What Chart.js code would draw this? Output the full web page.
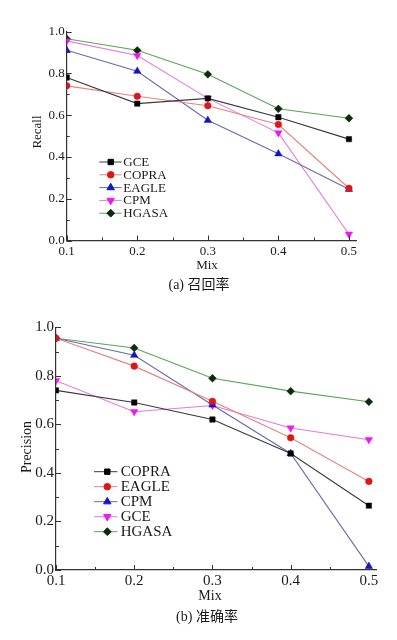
<!DOCTYPE html>
<html>
<head>
<meta charset="utf-8">
<script src="https://cdn.jsdelivr.net/npm/chart.js@4.4.1/dist/chart.umd.min.js"></script>
<style>
  html, body { margin: 0; padding: 0; background: #fff; }
  body { width: 397px; height: 640px; position: relative; overflow: hidden; }
  .wrap { position: absolute; left: 0; }
  .lbl { position: absolute; transform: translate(-50%, -50%); white-space: nowrap; line-height: 1;
         font-family: "Liberation Serif", "Noto Sans CJK SC", serif; color: #1a1a1a; }
  .rot { transform: translate(-50%, -50%) rotate(-90deg); }
</style>
</head>
<body>
<div class="wrap" style="top:0;width:397px;height:262px;"><canvas id="c1" width="397" height="262"></canvas></div>
<div class="wrap" style="top:300px;width:397px;height:300px;"><canvas id="c2" width="397" height="290"></canvas></div>

<div class="lbl rot" style="left:36px;top:132px;font-size:13px;">Recall</div>
<div class="lbl" style="left:207px;top:263.5px;font-size:13px;">Mix</div>
<div class="lbl" style="left:199px;top:285px;font-size:14px;">(a) 召回率</div>

<div class="lbl rot" style="left:27px;top:447px;font-size:14px;">Precision</div>
<div class="lbl" style="left:210px;top:596px;font-size:14px;">Mix</div>
<div class="lbl" style="left:207px;top:616.5px;font-size:14px;">(b) 准确率</div>

<script>
// ---- data ----
const mix = [0.1, 0.2, 0.3, 0.4, 0.5];

// (a) Recall
const recallNames = ['GCE', 'COPRA', 'EAGLE', 'CPM', 'HGASA'];
const recallGCE   = [0.78, 0.655, 0.68, 0.59, 0.485];
const recallCOPRA = [0.74, 0.69, 0.645, 0.555, 0.25];
const recallEAGLE = [0.91, 0.81, 0.575, 0.415, 0.245];
const recallCPM   = [0.955, 0.885, 0.68, 0.515, 0.03];
const recallHGASA = [0.965, 0.91, 0.795, 0.63, 0.585];

// (b) Precision
const precNames = ['COPRA', 'EAGLE', 'CPM', 'GCE', 'HGASA'];
const precCOPRA = [0.74, 0.69, 0.62, 0.48, 0.265];
const precEAGLE = [0.955, 0.84, 0.695, 0.545, 0.365];
const precCPM   = [0.955, 0.885, 0.68, 0.48, 0.015];
const precGCE   = [0.78, 0.652, 0.678, 0.585, 0.537];
const precHGASA = [0.955, 0.915, 0.79, 0.737, 0.693];

const xTickLabels = ['0.1', '0.2', '0.3', '0.4', '0.5'];
const yTickLabels = ['0.0', '0.2', '0.4', '0.6', '0.8', '1.0'];

// ---- styles (by legend slot) ----
const styles = [
  { line: '#3a3a3a', mark: '#000000', pointStyle: 'rect',     rot: 0,   r: 3.8 },
  { line: '#e98080', mark: '#e01515', pointStyle: 'circle',   rot: 0,   r: 3.3 },
  { line: '#6a6aae', mark: '#1515c8', pointStyle: 'triangle', rot: 0,   r: 4.3 },
  { line: '#e27ae2', mark: '#f018f0', pointStyle: 'triangle', rot: 180, r: 4.3 },
  { line: '#5aa55a', mark: '#0b2b0b', pointStyle: 'rectRot',  rot: 0,   r: 3.9 }
];

function makeDatasets(names, series) {
  return names.map((n, i) => ({
    label: n,
    data: mix.map((m, j) => ({ x: m, y: series[i][j] })),
    borderColor: styles[i].line,
    borderWidth: 1.1,
    backgroundColor: styles[i].mark,
    pointBackgroundColor: styles[i].mark,
    pointBorderColor: styles[i].mark,
    pointBorderWidth: 0.5,
    pointStyle: styles[i].pointStyle,
    pointRotation: styles[i].rot,
    pointRadius: styles[i].r,
    pointHoverRadius: styles[i].r,
    tension: 0,
    fill: false
  }));
}

// inward ticks
const innerTicks = {
  id: 'innerTicks',
  afterDraw(chart) {
    const ctx = chart.ctx, a = chart.chartArea;
    ctx.save();
    ctx.strokeStyle = '#333';
    ctx.lineWidth = 1;
    const xs = chart.scales.x, ys = chart.scales.y;
    xs.ticks.forEach(t => {
      const px = Math.round(xs.getPixelForValue(t.value)) + 0.5;
      const major = xTickLabels.includes(t.value.toFixed(2).replace(/0$/, ''));
      const len = major ? 5 : 3;
      ctx.beginPath(); ctx.moveTo(px, a.bottom); ctx.lineTo(px, a.bottom - len); ctx.stroke();
    });
    ys.ticks.forEach(t => {
      const py = Math.round(ys.getPixelForValue(t.value)) + 0.5;
      const major = yTickLabels.includes(t.value.toFixed(1));
      const len = major ? 5 : 3;
      ctx.beginPath(); ctx.moveTo(a.left, py); ctx.lineTo(a.left + len, py); ctx.stroke();
    });
    ctx.restore();
  }
};

// legend inside the plot
const inLegend = {
  id: 'inLegend',
  afterDraw(chart, args, o) {
    const ctx = chart.ctx;
    ctx.save();
    chart.data.datasets.forEach((ds, i) => {
      const y = o.y0 + i * o.dy;
      ctx.strokeStyle = ds.borderColor;
      ctx.lineWidth = 1;
      ctx.beginPath(); ctx.moveTo(o.x0, y); ctx.lineTo(o.x1, y); ctx.stroke();
      ctx.fillStyle = ds.pointBackgroundColor;
      ctx.strokeStyle = ds.pointBorderColor;
      if (Chart.helpers && Chart.helpers.drawPoint) {
        Chart.helpers.drawPoint(ctx, { pointStyle: ds.pointStyle, rotation: ds.pointRotation, radius: ds.pointRadius, borderWidth: 0.5 }, o.mx, y);
      } else {
        ctx.beginPath(); ctx.arc(o.mx, y, ds.pointRadius, 0, Math.PI * 2); ctx.fill();
      }
      ctx.fillStyle = '#1a1a1a';
      ctx.font = o.font + 'px "Liberation Serif", serif';
      ctx.textBaseline = 'middle';
      ctx.textAlign = 'left';
      ctx.fillText(ds.label, o.tx, y + 0.5);
    });
    ctx.restore();
  }
};

function makeChart(id, names, series, g) {
  return new Chart(document.getElementById(id), {
    type: 'line',
    data: { datasets: makeDatasets(names, series) },
    plugins: [innerTicks, inLegend],
    options: {
      responsive: false,
      animation: false,
      devicePixelRatio: 1,
      layout: { padding: { left: 0, top: g.top, right: g.right, bottom: 0 } },
      plugins: {
        legend: { display: false },
        tooltip: { enabled: false },
        title: { display: false },
        inLegend: g.legend
      },
      scales: {
        x: {
          type: 'linear',
          min: 0.1, max: 0.51,
          grid: { display: false, drawTicks: false },
          border: { display: true, color: '#333', width: 1.2 },
          ticks: {
            stepSize: 0.05, includeBounds: false, autoSkip: false, maxRotation: 0,
            padding: g.xpad, color: '#1a1a1a',
            font: { family: 'Liberation Serif', size: g.font },
            callback: (v) => { const s = (Math.round(v * 100) / 100).toFixed(2).replace(/0$/, ''); return xTickLabels.includes(s) ? s : ''; }
          },
          afterFit: (s) => { s.height = g.xh; }
        },
        y: {
          type: 'linear',
          min: 0, max: 1.0,
          grid: { display: false, drawTicks: false },
          border: { display: true, color: '#333', width: 1.2 },
          ticks: {
            stepSize: 0.1, autoSkip: false, maxTicksLimit: 20,
            padding: 2, color: '#1a1a1a',
            font: { family: 'Liberation Serif', size: g.font },
            callback: (v) => { const s = (Math.round(v * 10) / 10).toFixed(1); return yTickLabels.includes(s) ? s : ''; }
          },
          afterFit: (s) => { s.width = g.left; }
        }
      }
    }
  });
}

makeChart('c1', recallNames, [recallGCE, recallCOPRA, recallEAGLE, recallCPM, recallHGASA], {
  top: 31.5, right: 41, left: 66.7, xh: 21.5, font: 13, xpad: 3,
  legend: { x0: 99.3, x1: 121.7, mx: 110.7, tx: 123.3, y0: 162, dy: 12.8, font: 13 }
});

makeChart('c2', precNames, [precCOPRA, precEAGLE, precCPM, precGCE, precHGASA], {
  top: 27.3, right: 20.3, left: 56, xh: 20, font: 15, xpad: 2,
  legend: { x0: 94, x1: 117.3, mx: 107.3, tx: 120.7, y0: 171.7, dy: 15, font: 15 }
});
</script>
</body>
</html>
